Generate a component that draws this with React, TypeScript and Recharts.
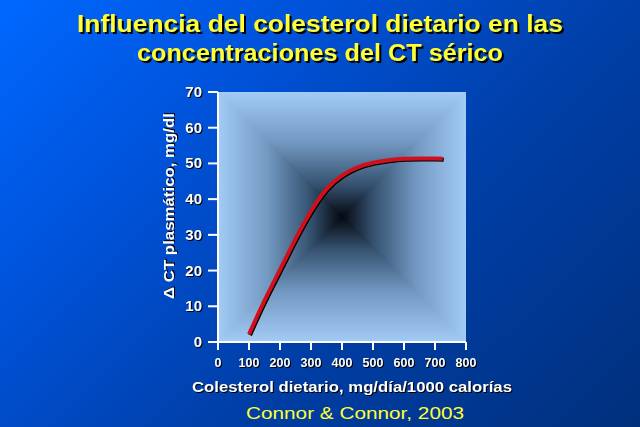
import React from 'react';
import { LineChart, Line, XAxis, YAxis, CartesianGrid, Label } from 'recharts';

const titleLines = ['Influencia del colesterol dietario en las', 'concentraciones del CT sérico'];
const xAxisTitle = 'Colesterol dietario, mg/día/1000 calorías';
const yAxisTitle = 'Δ CT plasmático, mg/dl';
const sourceText = 'Connor & Connor, 2003';

const cholesterolIntake = [100, 150, 200, 250, 300, 350, 400, 450, 500, 550, 600, 650, 700, 725];
const deltaCT = [2.2, 11.6, 20.2, 28.8, 36.6, 42.8, 46.6, 48.9, 50.2, 50.9, 51.3, 51.4, 51.4, 51.3];
const xTicks = [0, 100, 200, 300, 400, 500, 600, 700, 800];
const yTicks = [0, 10, 20, 30, 40, 50, 60, 70];

const data = cholesterolIntake.map((x, i) => ({ x, y: deltaCT[i] }));

const FONT = '"Liberation Sans", Arial, sans-serif';
const SHADOW = { filter: 'drop-shadow(1.3px 1.3px 0px #000)' };
const TITLE_SHADOW = { filter: 'drop-shadow(2px 2px 0.3px #000)' };

const XTick = (props: any) => {
  const { x, y, payload } = props;
  return (
    <text x={x} y={y} dy={15} textAnchor="middle" fontFamily={FONT} fontWeight="bold" fontSize={12.5} fill="#fff" style={SHADOW}>
      {payload.value}
    </text>
  );
};

const YTick = (props: any) => {
  const { x, y, payload } = props;
  return (
    <text x={x} y={y} dy={5} textAnchor="end" fontFamily={FONT} fontWeight="bold" fontSize={15} fill="#fff" style={SHADOW}>
      {payload.value}
    </text>
  );
};

const XLabel = (props: any) => {
  const vb = props.viewBox || { x: 0, y: 0, width: 0, height: 0 };
  const cx = vb.x + vb.width / 2 + 10;
  const cy = vb.y + 50;
  return (
    <text x={cx} y={cy} textAnchor="middle" fontFamily={FONT} fontWeight="bold" fontSize={14} fill="#fff" textLength={320} lengthAdjust="spacingAndGlyphs" style={SHADOW}>
      {xAxisTitle}
    </text>
  );
};

const YLabel = (props: any) => {
  const vb = props.viewBox || { x: 0, y: 0, width: 0, height: 0 };
  const cx = vb.x + vb.width - 44;
  const cy = vb.y + vb.height / 2 - 11;
  return (
    <g transform={`translate(${cx},${cy}) rotate(-90)`}>
      <text x={0} y={0} textAnchor="middle" fontFamily={FONT} fontWeight="bold" fontSize={14} fill="#fff" textLength={186} lengthAdjust="spacingAndGlyphs" style={SHADOW}>
        {yAxisTitle}
      </text>
    </g>
  );
};

export default function App() {
  const stops = (
    <>
      <stop offset="0" stopColor="#a2cbf5" />
      <stop offset="0.4" stopColor="#7399c2" />
      <stop offset="0.75" stopColor="#34506e" />
      <stop offset="1" stopColor="#05080f" />
    </>
  );
  return (
    <div
      style={{
        position: 'fixed',
        left: 0,
        top: 0,
        width: 640,
        height: 427,
        overflow: 'hidden',
        background: 'linear-gradient(135deg, #0068ff 0%, #0052d8 30%, #003fa8 60%, #00307c 100%)',
      }}
    >
      <style>{`.recharts-line-curve { filter: drop-shadow(1.6px 1.6px 0.4px #000); }`}</style>
      <svg width={640} height={427} style={{ position: 'absolute', left: 0, top: 0 }}>
        {titleLines.map((t, i) => (
          <text key={i} x={320} y={[32, 61][i]} textAnchor="middle" fontFamily={FONT} fontWeight="bold" fontSize={23} fill="#ffff33" textLength={[486, 366][i]} lengthAdjust="spacingAndGlyphs" style={TITLE_SHADOW}>
            {t}
          </text>
        ))}
        <text x={355} y={419} textAnchor="middle" fontFamily={FONT} fontSize={17} fill="#ffff33" textLength={218} lengthAdjust="spacingAndGlyphs">
          {sourceText}
        </text>
      </svg>
      <div style={{ position: 'absolute', left: 0, top: 0 }}>
        <LineChart width={640} height={427} data={data} margin={{ top: 92, right: 174, bottom: 25, left: 158 }}>
          <defs>
            <linearGradient id="gTop" x1="0" y1="0" x2="0" y2="1">{stops}</linearGradient>
            <linearGradient id="gBottom" x1="0" y1="1" x2="0" y2="0">{stops}</linearGradient>
            <linearGradient id="gLeft" x1="0" y1="0" x2="1" y2="0">{stops}</linearGradient>
            <linearGradient id="gRight" x1="1" y1="0" x2="0" y2="0">{stops}</linearGradient>
            <radialGradient id="gBase" cx="0.5" cy="0.5" r="0.7">
              <stop offset="0" stopColor="#05080f" />
              <stop offset="0.3" stopColor="#34506e" />
              <stop offset="0.65" stopColor="#7399c2" />
              <stop offset="1" stopColor="#a2cbf5" />
            </radialGradient>
            <pattern id="pyr" patternUnits="objectBoundingBox" patternContentUnits="objectBoundingBox" width="1" height="1">
              <rect x="0" y="0" width="1" height="1" fill="url(#gBase)" />
              <polygon points="0,0 1,0 0.5,0.5" fill="url(#gTop)" />
              <polygon points="0,1 1,1 0.5,0.5" fill="url(#gBottom)" />
              <polygon points="0,0 0,1 0.5,0.5" fill="url(#gLeft)" />
              <polygon points="1,0 1,1 0.5,0.5" fill="url(#gRight)" />
            </pattern>
          </defs>
          <CartesianGrid horizontal={false} vertical={false} fill="url(#pyr)" stroke="none" />
          <XAxis
            dataKey="x"
            type="number"
            domain={[0, 800]}
            ticks={xTicks}
            interval={0}
            height={60}
            stroke="#fff"
            strokeWidth={2}
            tickSize={8}
            tickLine={{ stroke: '#fff', strokeWidth: 2 }}
            axisLine={{ stroke: '#fff', strokeWidth: 2 }}
            tick={<XTick />}
          >
            <Label content={<XLabel />} />
          </XAxis>
          <YAxis
            type="number"
            domain={[0, 70]}
            ticks={yTicks}
            interval={0}
            width={60}
            stroke="#fff"
            strokeWidth={2}
            tickSize={10}
            tickMargin={6}
            tickLine={{ stroke: '#fff', strokeWidth: 2 }}
            axisLine={{ stroke: '#fff', strokeWidth: 2 }}
            tick={<YTick />}
          >
            <Label content={<YLabel />} />
          </YAxis>
          <Line
            type="natural"
            dataKey="y"
            stroke="#d0101c"
            strokeWidth={4}
            dot={false}
            activeDot={false}
            isAnimationActive={false}
          />
        </LineChart>
      </div>
    </div>
  );
}
